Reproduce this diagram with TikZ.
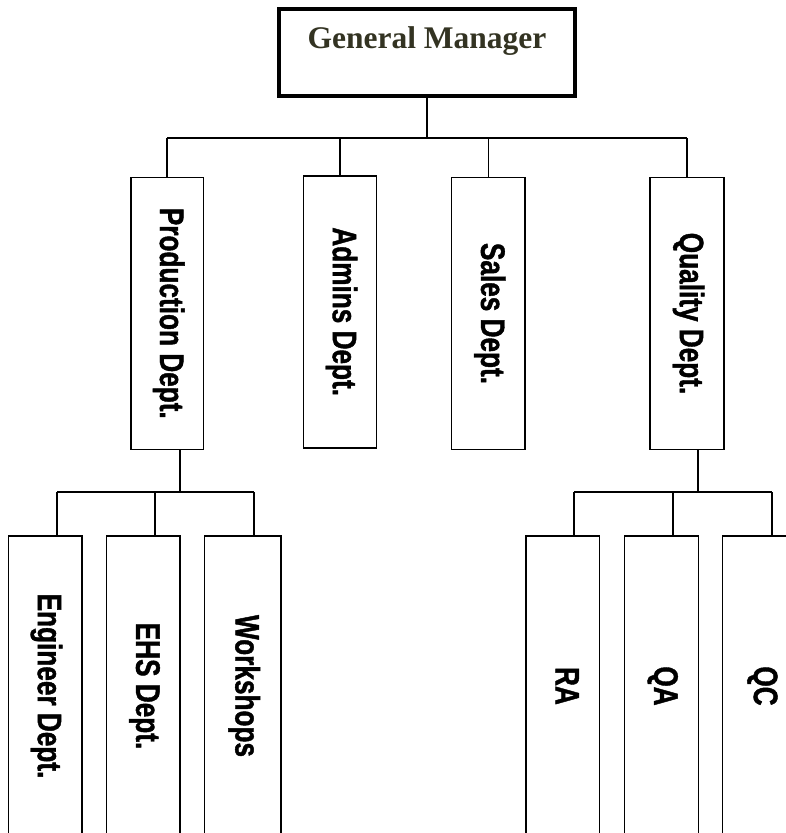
\documentclass[tikz,border=0pt]{standalone}
\usepackage{fontspec}
\newfontfamily\gmfont{Liberation Serif}
\newfontfamily\boxfont[FakeStretch=0.77,FakeBold=1.2]{Liberation Sans}
\definecolor{gmtext}{HTML}{333322}
\newcommand{\rottext}[1]{\rotatebox{-90}{\rule[-0.30em]{0pt}{1.02em}#1}}
\begin{document}
\begin{tikzpicture}[x=1pt,y=-1pt,
  conn/.style={line width=1.6pt},
  gmbox/.style={draw, line width=3.5pt, inner sep=0pt, minimum width=296pt, minimum height=87pt,
    text height=39pt, text depth=48pt, text=gmtext, font=\gmfont\bfseries\fontsize{31.5}{36}\selectfont},
  dept/.style={draw, line width=1.6pt, inner sep=0pt, font=\boxfont\bfseries\fontsize{34}{40}\selectfont},
  topdept/.style={dept, minimum height=272pt},
  subdept/.style={dept, minimum height=300pt}]
\useasboundingbox (0,0) rectangle (786,833);

\node[gmbox] (gm) at (427,52.5) {General Manager};

\node[topdept, minimum width=72.3pt] (prod) at (167.2,313.3) {\rottext{Production Dept.}};
\node[topdept, minimum width=73.3pt] (adm) at (340,311.7) {\rottext{Admins Dept.}};
\node[topdept, minimum width=73.3pt] (sales) at (488.3,313.5) {\rottext{Sales Dept.}};
\node[topdept, minimum width=74pt] (qual) at (687,313.5) {\rottext{Quality Dept.}};

\node[subdept, minimum width=73.4pt] (eng) at (45,686) {\rottext{Engineer Dept.}};
\node[subdept, minimum width=73.3pt] (ehs) at (143.3,686) {\rottext{EHS Dept.}};
\node[subdept, minimum width=76.7pt] (work) at (242.7,686) {\rottext{Workshops}};
\node[subdept, minimum width=73.3pt] (ra) at (562.7,686) {\rottext{RA}};
\node[subdept, minimum width=74pt] (qa) at (661.3,686) {\rottext{QA}};
\node[subdept, minimum width=77pt] (qc) at (761,686) {\rottext{QC}};

\coordinate (bus) at (427,138);
\draw[conn] (gm.south) -- (bus);
\draw[conn] (prod.north |- bus) -- (qual.north |- bus);
\foreach \n in {prod,adm,sales,qual} \draw[conn] (\n.north |- bus) -- (\n.north);

\coordinate (pbus) at (180,492);
\coordinate (t1) at (57,492);
\coordinate (t2) at (155,492);
\coordinate (t3) at (254,492);
\draw[conn] (prod.south -| pbus) -- (pbus);
\draw[conn] (t1) -- (t3);
\draw[conn] (t1) -- (t1 |- eng.north);
\draw[conn] (t2) -- (t2 |- ehs.north);
\draw[conn] (t3) -- (t3 |- work.north);

\coordinate (qbus) at (698,492);
\coordinate (t4) at (574,492);
\coordinate (t5) at (673,492);
\coordinate (t6) at (772,492);
\draw[conn] (qual.south -| qbus) -- (qbus);
\draw[conn] (t4) -- (t6);
\draw[conn] (t4) -- (t4 |- ra.north);
\draw[conn] (t5) -- (t5 |- qa.north);
\draw[conn] (t6) -- (t6 |- qc.north);
\end{tikzpicture}
\end{document}
